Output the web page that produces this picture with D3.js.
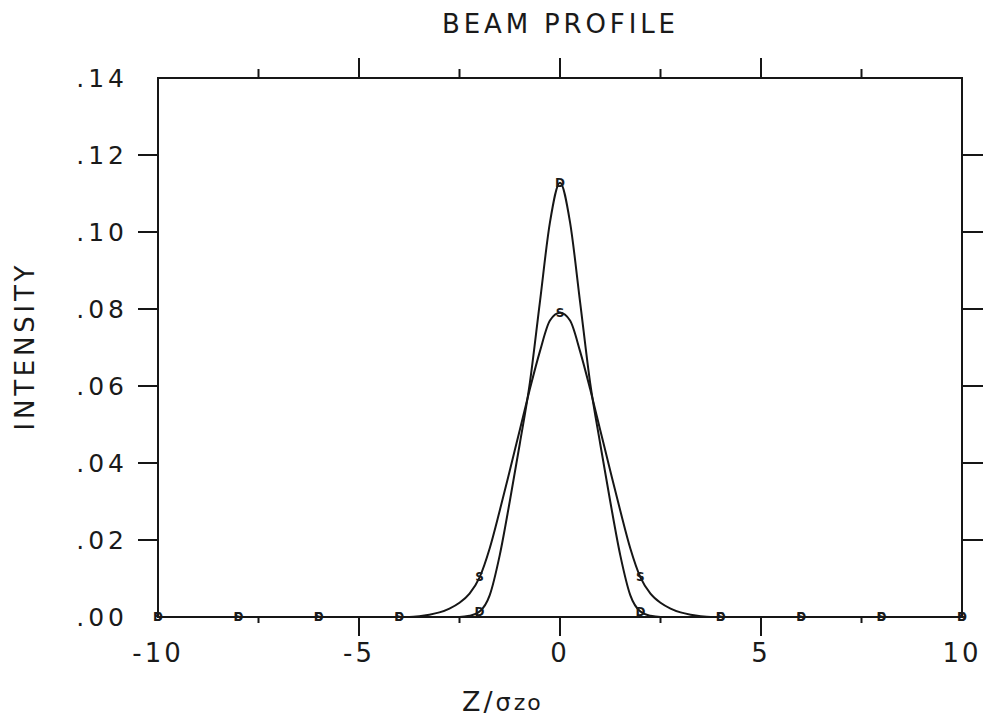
<!DOCTYPE html>
<html>
<head>
<meta charset="utf-8">
<script src="https://cdn.jsdelivr.net/npm/d3@7"></script>
<style>
  body { margin: 0; background: #fff; }
  text { font-family: "DejaVu Sans", sans-serif; fill: #1a1a1a; }
</style>
</head>
<body>
<svg id="beamProfile" width="984" height="723"></svg>
<script>
// z / sigma_z0 sample positions
const zValues = [-10, -8, -6, -4, -3.75, -3.5, -3.25, -3, -2.75, -2.5, -2.25, -2, -1.75, -1.5, -1.25, -1, -0.75, -0.5, -0.25,
    0, 0.25, 0.5, 0.75, 1, 1.25, 1.5, 1.75, 2, 2.25, 2.5, 2.75, 3, 3.25, 3.5, 3.75, 4, 6, 8, 10];

// narrow profile, marked "D"
const narrowValues = [0, 0, 0, 0, 0, 0, 0, 0, 0, 0, 0.0003, 0.0014, 0.0056, 0.0160, 0.0300, 0.0450, 0.0608, 0.0818, 0.1025,
    0.1128, 0.1025, 0.0818, 0.0608, 0.0450, 0.0300, 0.0160, 0.0056, 0.0014, 0.0003, 0, 0, 0, 0, 0, 0, 0, 0, 0, 0];

// wide profile, marked "S"
const wideValues = [0, 0, 0, 0, 0, 0.0002, 0.0006, 0.0012, 0.0022, 0.0037, 0.0061, 0.0103, 0.0178, 0.0276, 0.0380, 0.0486, 0.0592, 0.0690, 0.0770,
    0.0790, 0.0770, 0.0690, 0.0592, 0.0486, 0.0380, 0.0276, 0.0178, 0.0103, 0.0061, 0.0037, 0.0022, 0.0012, 0.0006, 0.0002, 0, 0, 0, 0, 0];

const markerZ = [-10, -8, -6, -4, -2, 0, 2, 4, 6, 8, 10];

const xTickValues = [-10, -5, 0, 5, 10];
const xTickLabels = ["-10", "-5", "0", "5", "10"];
const xMinorTicks = [-7.5, -2.5, 2.5, 7.5];
const yTickValues = [0, 0.02, 0.04, 0.06, 0.08, 0.10, 0.12, 0.14];
const yTickLabels = [".00", ".02", ".04", ".06", ".08", ".10", ".12", ".14"];

const series = [
    {mark: "D", values: narrowValues},
    {mark: "S", values: wideValues}
];

const margin = ({top: 78, right: 22, bottom: 106, left: 158});
const width = 984;
const height = 723;

const x = d3.scaleLinear()
    .domain([-10, 10])
    .range([margin.left, width - margin.right]);

const y = d3.scaleLinear()
    .domain([0, 0.14])
    .range([height - margin.bottom, margin.top]);

const svg = d3.select("#beamProfile");
const ink = "#161616";

// frame
svg.append("rect")
    .attr("x", x(-10))
    .attr("y", y(0.14))
    .attr("width", x(10) - x(-10))
    .attr("height", y(0) - y(0.14))
    .attr("fill", "none")
    .attr("stroke", ink)
    .attr("stroke-width", 2);

// bottom ticks
svg.append("g")
    .selectAll("line")
    .data(xTickValues.filter(d => Math.abs(d) < 10).map(v => ({v, len: 19}))
        .concat(xMinorTicks.map(v => ({v, len: 6}))))
    .join("line")
    .attr("x1", d => x(d.v)).attr("x2", d => x(d.v))
    .attr("y1", y(0)).attr("y2", d => y(0) + d.len)
    .attr("stroke", ink).attr("stroke-width", 2);

// top ticks
svg.append("g")
    .selectAll("line")
    .data(xTickValues.filter(d => Math.abs(d) < 10).map(v => ({v, len: 20}))
        .concat(xMinorTicks.map(v => ({v, len: 9}))))
    .join("line")
    .attr("x1", d => x(d.v)).attr("x2", d => x(d.v))
    .attr("y1", y(0.14)).attr("y2", d => y(0.14) - d.len)
    .attr("stroke", ink).attr("stroke-width", 2);

// left and right ticks
const innerY = yTickValues.filter(d => d > 0 && d < 0.14);
svg.append("g")
    .selectAll("line")
    .data(innerY)
    .join("line")
    .attr("x1", x(-10) - 20).attr("x2", x(-10))
    .attr("y1", d => y(d)).attr("y2", d => y(d))
    .attr("stroke", ink).attr("stroke-width", 2);

svg.append("g")
    .selectAll("line")
    .data(innerY)
    .join("line")
    .attr("x1", x(10)).attr("x2", x(10) + 21)
    .attr("y1", d => y(d)).attr("y2", d => y(d))
    .attr("stroke", ink).attr("stroke-width", 2);

// tick labels
svg.append("g")
    .selectAll("text")
    .data(xTickValues)
    .join("text")
    .attr("x", d => x(d))
    .attr("y", y(0) + 45)
    .attr("text-anchor", "middle")
    .attr("font-size", 26)
    .attr("letter-spacing", 3)
    .text((d, i) => xTickLabels[i]);

svg.append("g")
    .selectAll("text")
    .data(yTickValues)
    .join("text")
    .attr("x", x(-10) - 30)
    .attr("y", d => y(d) + 9)
    .attr("text-anchor", "end")
    .attr("font-size", 25)
    .attr("letter-spacing", 4)
    .text((d, i) => yTickLabels[i]);

// title and axis titles
svg.append("text")
    .attr("x", 442)
    .attr("y", 33)
    .attr("font-size", 26)
    .attr("textLength", 233)
    .attr("lengthAdjust", "spacing")
    .text("BEAM PROFILE");

svg.append("text")
    .attr("transform", "translate(34,348) rotate(-90)")
    .attr("text-anchor", "middle")
    .attr("font-size", 26)
    .attr("textLength", 165)
    .attr("lengthAdjust", "spacing")
    .text("INTENSITY");

const xTitle = svg.append("text")
    .attr("x", 462)
    .attr("y", 711)
    .attr("font-size", 27)
    .attr("letter-spacing", 3);
xTitle.append("tspan").text("Z/");
xTitle.append("tspan").attr("font-size", 24).attr("letter-spacing", 0).text("σ");
xTitle.append("tspan").attr("font-size", 22).attr("dy", -1).attr("dx", 3).attr("letter-spacing", 2).text("zo");

// curves
const line = d3.line()
    .x(d => x(d[0]))
    .y(d => y(d[1]))
    .curve(d3.curveMonotoneX);

svg.append("g")
    .selectAll("path")
    .data(series)
    .join("path")
    .attr("d", s => line(zValues.map((z, i) => [z, s.values[i]])))
    .attr("fill", "none")
    .attr("stroke", ink)
    .attr("stroke-width", 2);

// point markers every 2 units
svg.append("g")
    .selectAll("g")
    .data(series)
    .join("g")
    .selectAll("text")
    .data(s => zValues.map((z, i) => ({z, v: s.values[i], mark: s.mark})).filter(d => markerZ.includes(d.z)))
    .join("text")
    .attr("x", d => x(d.z))
    .attr("y", d => y(d.v) + 4)
    .attr("text-anchor", "middle")
    .attr("font-size", 12)
    .attr("font-weight", "bold")
    .text(d => d.mark);
</script>
</body>
</html>
